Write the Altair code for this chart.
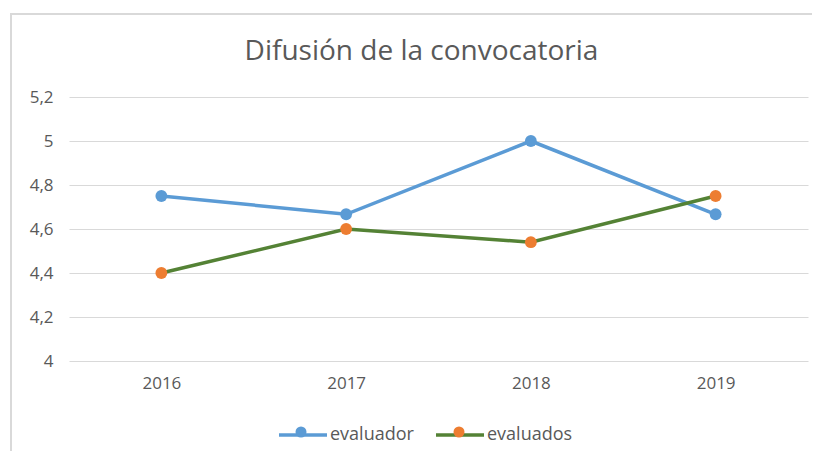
import altair as alt
import pandas as pd

years = ["2016", "2017", "2018", "2019"]
evaluador = [4.75, 4.667, 5.0, 4.667]
evaluados = [4.4, 4.6, 4.54, 4.75]
series = ["evaluador", "evaluados"]
y_ticks = [4, 4.2, 4.4, 4.6, 4.8, 5, 5.2]
title = "Difusión de la convocatoria"

line_colors = ["#5B9BD5", "#548235"]
point_colors = ["#5B9BD5", "#ED7D31"]

rows = []
for s, vals in zip(series, [evaluador, evaluados]):
    for yr, v in zip(years, vals):
        rows.append({"year": yr, "serie": s, "serie_p": s, "value": v})
df = pd.DataFrame(rows)

FONT = "Open Sans"
GRAY = "#595959"
W, H = 739, 264

x_enc = alt.X("year:O", sort=years,
              scale=alt.Scale(type="point", padding=0.5),
              axis=alt.Axis(title=None, labelAngle=0, ticks=False, domain=False,
                            grid=False, labelPadding=14, labelFontSize=17,
                            labelFont=FONT, labelColor=GRAY))
y_enc = alt.Y("value:Q", scale=alt.Scale(domain=[4, 5.2], nice=False, zero=False),
              axis=alt.Axis(title=None, values=y_ticks, ticks=False, domain=False,
                            grid=True, gridColor="#d9d9d9", gridWidth=1,
                            labelPadding=16, labelFontSize=17, labelFont=FONT,
                            labelColor=GRAY,
                            labelExpr="replace(format(datum.value, '.1~f'), '.', ',')"))

frame = pd.DataFrame({"a": [0]})
border_left = alt.Chart(frame).mark_rule(stroke="#d9d9d9", strokeWidth=2).encode(
    x=alt.value(-58), y=alt.value(-83), y2=alt.value(H + 150))
border_top = alt.Chart(frame).mark_rule(stroke="#d9d9d9", strokeWidth=2).encode(
    x=alt.value(-59), x2=alt.value(W + 80), y=alt.value(-83))

lines = alt.Chart(df).mark_line(strokeWidth=3.5).encode(
    x=x_enc, y=y_enc,
    stroke=alt.Stroke("serie:N", sort=series,
                      scale=alt.Scale(domain=series, range=line_colors),
                      legend=alt.Legend(title=None, orient="none", direction="horizontal",
                                        legendX=208, legendY=312,
                                        symbolType="M-1,0L1,0", symbolSize=2304,
                                        symbolStrokeWidth=3.5, labelOffset=1,
                                        columnPadding=15, labelFontSize=18,
                                        labelFont=FONT, labelColor=GRAY, padding=0)),
)

points = alt.Chart(df).mark_point(filled=True, size=140, opacity=1).encode(
    x=x_enc, y=y_enc,
    fill=alt.Fill("serie_p:N", sort=series,
                  scale=alt.Scale(domain=series, range=point_colors),
                  legend=alt.Legend(title=None, orient="none", direction="horizontal",
                                    legendX=223, legendY=326,
                                    symbolType="circle", symbolSize=121,
                                    symbolStrokeWidth=0, labelOffset=0,
                                    labelExpr="''", columnPadding=140,
                                    labelFontSize=18, padding=0)),
)

chart = alt.layer(border_left, border_top, lines, points).properties(
    width=W, height=H,
    title=alt.TitleParams(title, fontSize=28, font=FONT, fontWeight="normal",
                          color=GRAY, anchor="middle", dx=-17, offset=-53),
    autosize=alt.AutoSizeParams(type="none"),
    padding={"left": 61, "top": 89, "right": 4, "bottom": 90},
).configure_view(stroke=None).resolve_scale(stroke="independent", fill="independent")

chart.save("out.html", embed_options={"renderer": "svg", "actions": False})
